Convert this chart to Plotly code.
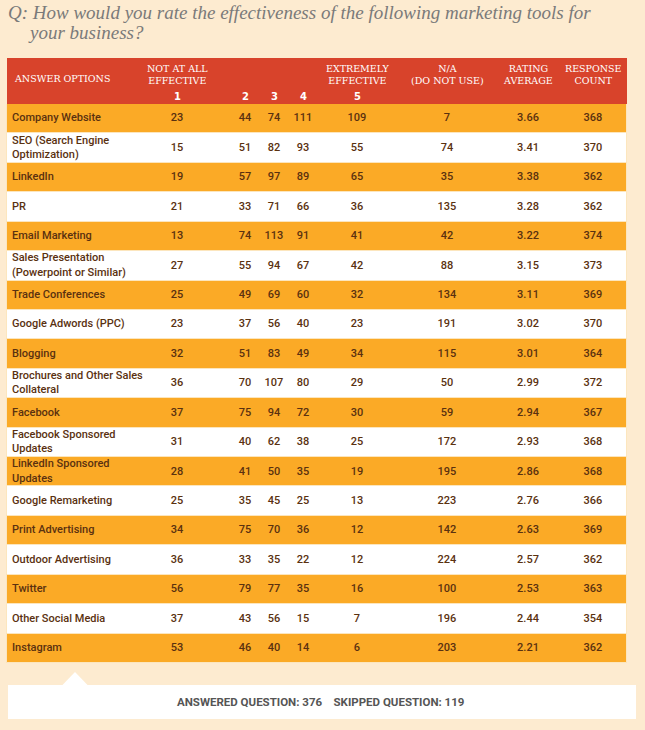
import plotly.graph_objects as go

options = ["Company Website", "SEO (Search Engine<br>Optimization)", "LinkedIn", "PR",
           "Email Marketing", "Sales Presentation<br>(Powerpoint or Similar)", "Trade Conferences",
           "Google Adwords (PPC)", "Blogging", "Brochures and Other Sales<br>Collateral", "Facebook",
           "Facebook Sponsored<br>Updates", "LinkedIn Sponsored<br>Updates", "Google Remarketing",
           "Print Advertising", "Outdoor Advertising", "Twitter", "Other Social Media", "Instagram"]
r1 = [23, 15, 19, 21, 13, 27, 25, 23, 32, 36, 37, 31, 28, 25, 34, 36, 56, 37, 53]
r2 = [44, 51, 57, 33, 74, 55, 49, 37, 51, 70, 75, 40, 41, 35, 75, 33, 79, 43, 46]
r3 = [74, 82, 97, 71, 113, 94, 69, 56, 83, 107, 94, 62, 50, 45, 70, 35, 77, 56, 40]
r4 = [111, 93, 89, 66, 91, 67, 60, 40, 49, 80, 72, 38, 35, 25, 36, 22, 35, 15, 14]
r5 = [109, 55, 65, 36, 41, 42, 32, 23, 34, 29, 30, 25, 19, 13, 12, 12, 16, 7, 6]
na = [7, 74, 35, 135, 42, 88, 134, 191, 115, 50, 59, 172, 195, 223, 142, 224, 100, 196, 203]
rating_avg = [3.66, 3.41, 3.38, 3.28, 3.22, 3.15, 3.11, 3.02, 3.01, 2.99, 2.94, 2.93, 2.86,
              2.76, 2.63, 2.57, 2.53, 2.44, 2.21]
resp_count = [368, 370, 362, 362, 374, 373, 369, 370, 364, 372, 367, 368, 368, 366, 369, 362,
              363, 354, 362]
header_labels = ["ANSWER OPTIONS", "NOT AT ALL<br>EFFECTIVE", "", "", "", "EXTREMELY<br>EFFECTIVE",
                 "N/A<br>(DO NOT USE)", "RATING<br>AVERAGE", "RESPONSE<br>COUNT"]
scale_labels = ["", "1", "2", "3", "4", "5", "", "", ""]
answered = 376
skipped = 119
question_l1 = "Q: How would you rate the effectiveness of the following marketing tools for"
question_l2 = "your business?"

# ---- layout / style constants ----
W, H = 645, 730
BG = "#FDEBD0"
ORANGE = "#FBAA26"
RED = "#D8432B"
BROWN = "#5A3110"
SEP = "#FCE6BE"
TABLE_X0, TABLE_X1 = 7, 627
HEAD_Y0, HEAD_Y1 = 58, 104
ROWS_Y1 = 663
col_x = [12, 177, 245, 274, 303, 357, 447, 528, 593]
CELL_FONT = dict(family="Roboto, DejaVu Sans Condensed, sans-serif", size=11, color=BROWN,
                 weight=500)
HEAD_FONT = dict(family="DejaVu Serif, serif", size=9.5, color="white")
TITLE_FONT = dict(family="Liberation Serif", size=19, color="#7A7A7A", style="italic")


def py(y):
    return 1 - y / H


n = len(options)
idx = list(range(n))
row_fill = [ORANGE if i % 2 == 0 else "#FFFFFF" for i in idx]

fig = go.Figure()

# row bands
fig.add_trace(go.Bar(
    y=idx, x=[TABLE_X1 - TABLE_X0] * n, base=TABLE_X0, orientation="h", width=1,
    marker=dict(color=row_fill, line=dict(width=1, color=SEP)), hoverinfo="skip",
    showlegend=False,
))

# answer options (left aligned)
fig.add_trace(go.Scatter(
    x=[col_x[0]] * n, y=idx, text=options, mode="text", textposition="middle right",
    textfont=CELL_FONT, hoverinfo="skip", showlegend=False,
))

columns = [r1, r2, r3, r4, r5, na, [f"{v:.2f}" for v in rating_avg], resp_count]
for cx, vals in zip(col_x[1:], columns):
    fig.add_trace(go.Scatter(
        x=[cx] * n, y=idx, text=[str(v) for v in vals], mode="text",
        textposition="middle center", textfont=CELL_FONT, hoverinfo="skip", showlegend=False,
    ))

shapes = [
    dict(type="rect", xref="x", yref="paper", x0=TABLE_X0, x1=TABLE_X1,
         y0=py(HEAD_Y1), y1=py(HEAD_Y0), fillcolor=RED, line=dict(width=0), layer="below"),
    dict(type="rect", xref="x", yref="paper", x0=8, x1=636, y0=py(719), y1=py(685),
         fillcolor="white", line=dict(width=0), layer="below"),
    dict(type="path", xref="paper", yref="paper",
         path=f"M {62 / W} {py(685.5)} L {75 / W} {py(672)} L {88 / W} {py(685.5)} Z",
         fillcolor="white", line=dict(width=0), layer="below"),
]

annotations = []
for i, (cx, lab) in enumerate(zip(col_x, header_labels)):
    if not lab:
        continue
    two = "<br>" in lab
    annotations.append(dict(
        text=lab, x=cx, y=py(74.5 if two else 79), xref="x", yref="paper",
        xanchor="left" if i == 0 else "center", yanchor="middle", showarrow=False,
        font=HEAD_FONT, align="left" if i == 0 else "center",
    ))
for cx, lab in zip(col_x, scale_labels):
    if lab:
        annotations.append(dict(
            text=f"<b>{lab}</b>", x=cx, y=py(96), xref="x", yref="paper",
            xanchor="center", yanchor="middle", showarrow=False,
            font=dict(family="DejaVu Sans, sans-serif", size=10, color="white"),
        ))

annotations += [
    dict(text=question_l1, x=6 / W, y=py(13), xref="paper", yref="paper", xanchor="left",
         yanchor="middle", showarrow=False, font=TITLE_FONT),
    dict(text=question_l2, x=26 / W, y=py(33), xref="paper", yref="paper", xanchor="left",
         yanchor="middle", showarrow=False, font=TITLE_FONT),
    dict(text=f"ANSWERED QUESTION: {answered}&nbsp;&nbsp;&nbsp;&nbsp;SKIPPED QUESTION: {skipped}",
         x=321 / W, y=py(702), xref="paper", yref="paper", xanchor="center", yanchor="middle",
         showarrow=False,
         font=dict(family="Roboto, sans-serif", size=11.5, color="#555555", weight="bold")),
]

fig.update_layout(
    width=W, height=H,
    margin=dict(l=0, r=0, t=0, b=0, pad=0),
    paper_bgcolor=BG, plot_bgcolor="rgba(0,0,0,0)",
    shapes=shapes, annotations=annotations,
    xaxis=dict(range=[0, W], domain=[0, 1], visible=False, fixedrange=True),
    yaxis=dict(range=[n - 0.5, -0.5], domain=[py(ROWS_Y1), py(HEAD_Y1)], visible=False,
               fixedrange=True),
    bargap=0,
)

fig.write_html("out.html", config=dict(displayModeBar=False),
               post_script="document.body.style.margin='0';document.body.style.overflow='hidden';")
